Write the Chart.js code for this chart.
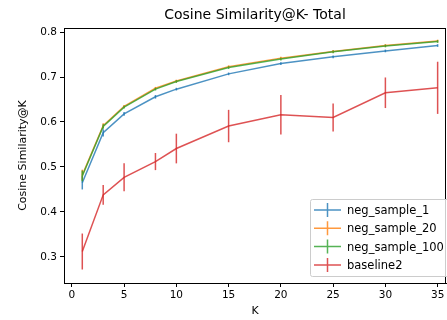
<!DOCTYPE html>
<html>
<head>
<meta charset="utf-8">
<script src="https://cdn.jsdelivr.net/npm/chart.js@4"></script>
<style>
  html, body { margin: 0; padding: 0; background: #fff; }
  #wrap { width: 447px; height: 320px; }
</style>
</head>
<body>
<div id="wrap"><canvas id="chart"></canvas></div>
<script>
const kValues = [1, 3, 5, 8, 10, 15, 20, 25, 30, 35]
const xTicks = [0, 5, 10, 15, 20, 25, 30, 35]
const yTicks = [0.3, 0.4, 0.5, 0.6, 0.7, 0.8]

const negSample1 = [0.465, 0.576, 0.618, 0.656, 0.673, 0.707, 0.730, 0.745, 0.758, 0.770]
const negSample1Err = [0.015, 0.008, 0.004, 0.004, 0.003, 0.003, 0.003, 0.003, 0.003, 0.003]
const negSample20 = [0.482, 0.592, 0.635, 0.675, 0.691, 0.723, 0.742, 0.757, 0.770, 0.780]
const negSample20Err = [0.012, 0.005, 0.003, 0.003, 0.003, 0.003, 0.003, 0.003, 0.003, 0.003]
const negSample100 = [0.480, 0.590, 0.633, 0.673, 0.690, 0.721, 0.740, 0.756, 0.769, 0.779]
const negSample100Err = [0.012, 0.005, 0.003, 0.003, 0.003, 0.003, 0.003, 0.003, 0.003, 0.003]
const baseline2 = [0.312, 0.438, 0.477, 0.512, 0.541, 0.591, 0.616, 0.610, 0.665, 0.676]
const baseline2Err = [0.040, 0.022, 0.031, 0.019, 0.033, 0.036, 0.044, 0.031, 0.034, 0.058]

const seriesNames = ['neg_sample_1', 'neg_sample_20', 'neg_sample_100', 'baseline2']
const colors = ['rgba(31,119,180,0.8)', 'rgba(255,127,14,0.8)', 'rgba(44,160,44,0.8)', 'rgba(214,39,40,0.8)']
const chartTitle = 'Cosine Similarity@K- Total'

const font = 'DejaVu Sans'

function toPoints(ys) {
    return ys.map((y, i) => ({ x: kValues[i], y: y }))
}

function makeSet(i, ys, errs) {
    return {
        label: seriesNames[i],
        data: toPoints(ys),
        errors: errs,
        borderColor: colors[i],
        backgroundColor: colors[i],
        borderWidth: 1.5,
        pointRadius: 0,
        tension: 0,
        order: 3 - i
    }
}

// vertical error bars, drawn through the scales
const errorBars = {
    id: 'errorBars',
    afterDatasetsDraw(chart) {
        const ctx = chart.ctx
        const xs = chart.scales.x
        const ys = chart.scales.y
        ctx.save()
        ctx.beginPath()
        ctx.rect(chart.chartArea.left, chart.chartArea.top, chart.chartArea.width, chart.chartArea.height)
        ctx.clip()
        chart.data.datasets.forEach(ds => {
            ctx.strokeStyle = ds.borderColor
            ctx.lineWidth = 1.5
            ds.data.forEach((p, i) => {
                const e = ds.errors[i]
                const px = xs.getPixelForValue(p.x)
                ctx.beginPath()
                ctx.moveTo(px, ys.getPixelForValue(p.y - e))
                ctx.lineTo(px, ys.getPixelForValue(p.y + e))
                ctx.stroke()
            })
        })
        ctx.restore()
    }
}

// box round the plot, title over the plot area, legend in lower right
const frameAndLegend = {
    id: 'frameAndLegend',
    afterDraw(chart) {
        const ctx = chart.ctx
        const a = chart.chartArea
        ctx.save()
        ctx.strokeStyle = '#000'
        ctx.lineWidth = 1
        ctx.strokeRect(Math.round(a.left) + 0.5, Math.round(a.top) + 0.5, Math.round(a.width) - 1, Math.round(a.height))

        ctx.fillStyle = '#000'
        ctx.font = '14px "' + font + '"'
        ctx.textAlign = 'center'
        ctx.textBaseline = 'middle'
        ctx.fillText(chartTitle, (a.left + a.right) / 2, 15)

        const bx = 310.5, by = 199.5, bw = 140, bh = 77
        ctx.fillStyle = 'rgba(255,255,255,0.8)'
        ctx.strokeStyle = '#cccccc'
        ctx.beginPath()
        ctx.roundRect(bx, by, bw, bh, 2)
        ctx.fill()
        ctx.stroke()

        ctx.font = '11.5px "' + font + '"'
        ctx.textBaseline = 'middle'
        ctx.textAlign = 'left'
        chart.data.datasets.forEach((ds, i) => {
            const cy = 210 + i * 18.3
            ctx.strokeStyle = ds.borderColor
            ctx.lineWidth = 1.5
            ctx.beginPath()
            ctx.moveTo(314, cy)
            ctx.lineTo(341, cy)
            ctx.moveTo(327.5, cy - 7)
            ctx.lineTo(327.5, cy + 7)
            ctx.stroke()
            ctx.fillStyle = '#000'
            ctx.fillText(ds.label, 347, cy + 1)
        })
        ctx.restore()
    }
}

const ctx = document.getElementById('chart').getContext('2d')
new Chart(ctx, {
    type: 'line',
    data: {
        datasets: [
            makeSet(0, negSample1, negSample1Err),
            makeSet(1, negSample20, negSample20Err),
            makeSet(2, negSample100, negSample100Err),
            makeSet(3, baseline2, baseline2Err)
        ]
    },
    options: {
        responsive: true,
        maintainAspectRatio: false,
        animation: false,
        layout: { padding: { left: 0, right: 1, top: 28, bottom: 0 } },
        scales: {
            x: {
                type: 'linear',
                min: -0.75,
                max: 35.8,
                afterBuildTicks: axis => { axis.ticks = xTicks.map(v => ({ value: v })) },
                afterFit: axis => { axis.height = 37 },
                grid: { drawOnChartArea: false, drawTicks: true, tickLength: 4, color: '#000' },
                border: { display: true, color: '#000' },
                ticks: { color: '#000', padding: 2, maxRotation: 0, font: { family: font, size: 10.5 } },
                title: { display: true, text: 'K', color: '#000', padding: { top: 0, bottom: 2.5 }, font: { family: font, size: 11 } }
            },
            y: {
                type: 'linear',
                min: 0.242,
                max: 0.809,
                afterBuildTicks: axis => { axis.ticks = yTicks.map(v => ({ value: v })) },
                afterFit: axis => { axis.width = 64 },
                grid: { drawOnChartArea: false, drawTicks: true, tickLength: 4, color: '#000' },
                border: { display: true, color: '#000' },
                ticks: { color: '#000', padding: 3, font: { family: font, size: 10.5 }, callback: v => v.toFixed(1) },
                title: { display: true, text: 'Cosine Similarity@K', color: '#000', padding: { top: 17, bottom: 0 }, font: { family: font, size: 11 } }
            }
        },
        plugins: {
            legend: { display: false },
            tooltip: { enabled: false },
            title: { display: false }
        }
    },
    plugins: [errorBars, frameAndLegend]
});
</script>
</body>
</html>
